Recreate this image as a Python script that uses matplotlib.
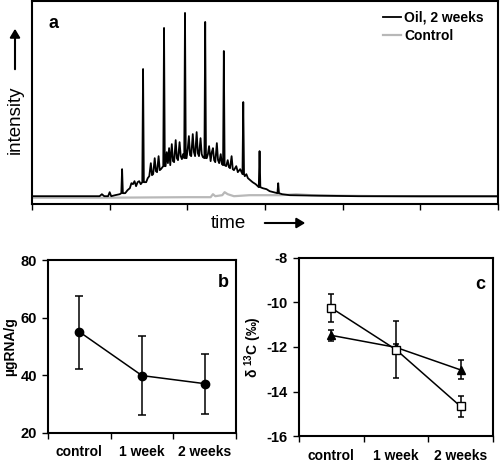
import matplotlib
matplotlib.use('Agg')
import matplotlib.pyplot as plt
import numpy as np

plt.rcParams['font.family'] = ['Liberation Sans', 'DejaVu Sans']
plt.rcParams['mathtext.default'] = 'regular'
plt.rcParams['axes.unicode_minus'] = False

# --- panel a: chromatogram (time in arbitrary units 0-60, intensity arbitrary) ---
oil_time = [0, 5, 8.7, 9.0, 9.3, 9.8, 10.0, 10.2, 10.7, 11.3, 11.5, 11.6, 11.7, 12.0,
            12.3, 12.6, 12.8, 13.0, 13.2, 13.4, 13.6, 13.8, 14.0, 14.2, 14.3, 14.35, 14.4,
            14.5, 14.7, 14.9, 15.1, 15.3, 15.45, 15.6, 15.8, 15.95, 16.1, 16.3, 16.45,
            16.6, 16.8, 16.9, 17.0, 17.1, 17.2, 17.35, 17.5, 17.65, 17.8, 18.0, 18.15,
            18.3, 18.5, 18.65, 18.8, 19.0, 19.15, 19.3, 19.45, 19.6, 19.7, 19.8, 19.9,
            20.05, 20.2, 20.35, 20.5, 20.7, 20.85, 21.0, 21.2, 21.35, 21.5, 21.7, 21.85,
            22.0, 22.2, 22.3, 22.4, 22.5, 22.65, 22.8, 23.0, 23.15, 23.3, 23.45, 23.6,
            23.8, 23.95, 24.1, 24.3, 24.45, 24.6, 24.7, 24.8, 25.0, 25.2, 25.35, 25.5,
            25.7, 25.85, 26.0, 26.3, 26.5, 26.8, 27.1, 27.2, 27.3, 27.4, 27.6, 27.8,
            28.1, 28.4, 28.8, 29.2, 29.3, 29.4, 29.7, 30.2, 30.6, 31.1, 31.6, 31.7,
            31.8, 32.2, 33.2, 37, 42, 50, 60]
oil_int = [0, 0, 0, 2, 0, 0, 4, 0, 1, 2, 3, 27, 3, 3,
           6, 8, 13, 12, 15, 10, 14, 15, 12, 14, 127, 76, 14,
           14, 14, 18, 20, 33, 21, 22, 38, 25, 24, 40, 26,
           27, 29, 30, 168, 30, 30, 44, 33, 48, 31, 52, 35,
           34, 56, 38, 36, 54, 40, 37, 42, 38, 183, 38, 38,
           47, 60, 41, 40, 62, 44, 40, 64, 43, 40, 58, 42,
           39, 38, 174, 38, 38, 42, 50, 35, 44, 48, 36, 34,
           53, 36, 33, 42, 32, 31, 145, 31, 30, 36, 29, 28,
           40, 27, 26, 30, 24, 27, 22, 94, 22, 20, 22, 18,
           16, 14, 12, 9, 45, 9, 8, 7, 5, 4, 3, 13,
           3, 2, 1, 0.5, 0, 0, 0]

ctrl_time = [0, 10, 20, 23, 23.3, 23.6, 24.5, 24.8, 25.2, 26, 28, 32, 34, 36, 40, 50, 60]
ctrl_int = [-1.5, -1.5, -1, -1, 2, 0, 1, 4, 2, 0, 1, 1, 2, 1, 0.5, -0.5, -0.5]

# --- panel b: RNA ---
groups = ['control', '1 week', '2 weeks']
rna = [55.1, 39.9, 37.1]
rna_hi = [67.7, 53.6, 47.5]
rna_lo = [42.3, 26.2, 26.7]

# --- panel c: delta 13C ---
d13_sq = [-10.25, -12.12, -14.67]
d13_sq_hi = [-9.62, -10.85, -14.19]
d13_sq_lo = [-10.9, -13.4, -15.13]
d13_tri = [-11.48, -12.02, -13.03]
d13_tri_hi = [-11.25, -11.85, -12.6]
d13_tri_lo = [-11.75, -12.2, -13.45]

fig = plt.figure(figsize=(5, 4.62), dpi=100)

# panel a
ax = fig.add_axes([0.064, 0.558, 0.932, 0.44])
ax.plot(ctrl_time, ctrl_int, color='#b8b8b8', lw=1.6, label='Control', zorder=2)
ax.plot(oil_time, oil_int, color='black', lw=1.3, label='Oil, 2 weeks', zorder=3)
ax.set_xlim(0, 60)
ax.set_ylim(-8, 195)
ax.set_xticks(np.arange(0, 61, 10))
ax.set_xticklabels([])
ax.set_yticks([])
ax.tick_params(axis='x', direction='out', length=4, width=1)
for s in ax.spines.values():
    s.set_linewidth(1.5)
h, l = ax.get_legend_handles_labels()
ax.legend(h[::-1], l[::-1], loc='upper right', bbox_to_anchor=(0.99, 1.0), frameon=False,
          prop={'weight': 'bold', 'size': 10}, handlelength=1.3, handletextpad=0.2,
          labelspacing=0.3, borderaxespad=0.3)
ax.text(0.035, 0.93, 'a', transform=ax.transAxes, fontsize=13, fontweight='bold',
        va='top', ha='left')

# axis labels with arrows for panel a
fig.text(228 / 500, 1 - 224 / 462, 'time', fontsize=13.5, ha='center', va='center')
fig.text(15 / 500, 1 - 120 / 462, 'intensity', fontsize=13.5, ha='center', va='center',
         rotation=90)
fig.add_artist(matplotlib.patches.FancyArrowPatch(
    (262 / 500, 1 - 223 / 462), (308 / 500, 1 - 223 / 462), transform=fig.transFigure,
    arrowstyle='-|>,head_length=5,head_width=3', color='black', lw=1.5))
fig.add_artist(matplotlib.patches.FancyArrowPatch(
    (15 / 500, 1 - 72 / 462), (15 / 500, 1 - 26 / 462), transform=fig.transFigure,
    arrowstyle='-|>,head_length=5,head_width=3', color='black', lw=1.5))

x = np.arange(3) + 0.5

def style_cat_axis(ax):
    ax.set_xlim(0, 3)
    ax.set_xticks([0, 1, 2, 3])
    ax.set_xticklabels([])
    ax.set_xticks(x, minor=True)
    ax.set_xticklabels(groups, minor=True, fontweight='bold', fontsize=10)
    ax.tick_params(axis='x', which='major', direction='out', length=4, width=1)
    ax.tick_params(axis='x', which='minor', length=0, pad=9)
    ax.tick_params(axis='y', direction='out', length=4, width=1, labelsize=10.5, pad=4)
    for t in ax.get_yticklabels():
        t.set_fontweight('bold')
    for s in ax.spines.values():
        s.set_linewidth(1.5)

# panel b
axb = fig.add_axes([0.096, 0.063, 0.376, 0.374])
yerr_b = [np.array(rna) - np.array(rna_lo), np.array(rna_hi) - np.array(rna)]
axb.errorbar(x, rna, yerr=yerr_b, color='black', lw=1.1, marker='o', ms=6,
             capsize=3, elinewidth=1.1, capthick=1.1)
axb.set_ylim(20, 80)
axb.set_yticks([20, 40, 60, 80])
style_cat_axis(axb)
axb.set_ylabel('µgRNA/g', fontweight='bold', fontsize=10, labelpad=2)
axb.text(0.96, 0.92, 'b', transform=axb.transAxes, fontsize=13, fontweight='bold',
         ha='right', va='top')

# panel c
axc = fig.add_axes([0.598, 0.056, 0.388, 0.386])
yerr_sq = [np.array(d13_sq) - np.array(d13_sq_lo), np.array(d13_sq_hi) - np.array(d13_sq)]
yerr_tri = [np.array(d13_tri) - np.array(d13_tri_lo), np.array(d13_tri_hi) - np.array(d13_tri)]
axc.errorbar(x, d13_tri, yerr=yerr_tri, color='black', lw=1.1, marker='^', ms=6,
             capsize=2.5, elinewidth=1.1, capthick=1.1)
axc.errorbar(x, d13_sq, yerr=yerr_sq, color='black', lw=1.1, marker='s', ms=6,
             mfc='white', mec='black', capsize=2.5, elinewidth=1.1, capthick=1.1)
axc.set_ylim(-16, -8)
axc.set_yticks([-16, -14, -12, -10, -8])
style_cat_axis(axc)
axc.set_ylabel('δ $^{13}$C (‰)', fontweight='bold', fontsize=10, labelpad=2)
axc.text(0.96, 0.9, 'c', transform=axc.transAxes, fontsize=13, fontweight='bold',
         ha='right', va='top')

fig.savefig('out.png', dpi=100)
